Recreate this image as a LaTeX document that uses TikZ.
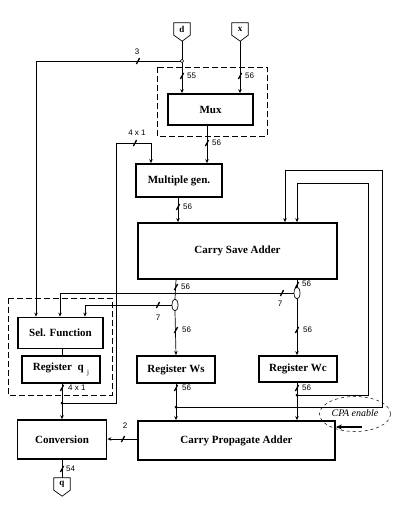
\documentclass[tikz,border=0pt]{standalone}
\usepackage{fontspec}
\setmainfont{Liberation Serif}
\setsansfont{Liberation Sans}
\usetikzlibrary{arrows.meta,shapes.geometric}

\begin{document}
\begin{tikzpicture}[x=1pt,y=-1pt,
  box/.style={draw,line width=1.8pt,font=\bfseries\fontsize{11}{12}\selectfont,inner sep=0pt},
  wire/.style={line width=0.7pt},
  arr/.style={wire,-{Stealth[length=4pt,width=3.5pt]}},
  lbl/.style={font=\sffamily\fontsize{8}{9}\selectfont,inner sep=0pt},
  dbox/.style={draw,line width=0.7pt,dash pattern=on 6pt off 3pt},
  io/.style={minimum width=16pt,minimum height=12pt,inner sep=0pt,font=\bfseries\fontsize{9}{10}\selectfont},
  jdot/.style={circle,fill,inner sep=0pt,minimum size=3pt},
  tap/.style={ellipse,draw,fill=white,line width=0.7pt,inner sep=0pt,minimum width=6pt,minimum height=12pt},
  bus/.pic={\draw[line width=1.3pt] (-1.6,3) -- (1.6,-3);}
]
\useasboundingbox (0,0) rectangle (407,514);

% ---------- inputs / output ----------
\node[io] (d) at (182,29) {d};
\draw[wire] (d.south west) -- (d.north west) -- (d.north east) -- (d.south east) -- ++(-8,6) -- cycle;
\node[io] (x) at (240,29) {x};
\draw[wire] (x.south west) -- (x.north west) -- (x.north east) -- (x.south east) -- ++(-8,6) -- cycle;
\node[io] (q) at (62,484) {q};
\draw[wire] (q.south west) -- (q.north west) -- (q.north east) -- (q.south east) -- ++(-8,6) -- cycle;
\coordinate (dtip) at (182,41);
\coordinate (xtip) at (240,41);

% ---------- boxes ----------
\node[box,minimum width=85pt,minimum height=31pt] (mux) at (210.5,109.5) {Mux};
\node[box,minimum width=86pt,minimum height=33pt] (mgen) at (179,180.5) {Multiple gen.};
\node[box,minimum width=199pt,minimum height=56pt] (csa) at (237.5,251) {Carry Save Adder};
\node[box,minimum width=85pt,minimum height=31pt] (sel) at (60.5,333) {Sel. Function};
\node[box,minimum width=78pt,minimum height=27pt] (regq) at (61,369.5) {Register~~q\raisebox{-4pt}{\mdseries\fontsize{7}{8}\selectfont\ \ j}};
\node[box,minimum width=78pt,minimum height=27pt] (regws) at (176,369.5) {Register Ws};
\node[box,minimum width=78pt,minimum height=26pt] (regwc) at (298,369) {Register Wc};
\node[box,minimum width=197pt,minimum height=39pt] (cpa) at (236.5,440.5) {Carry Propagate Adder};
\node[box,minimum width=89pt,minimum height=39pt] (conv) at (62,439.5) {Conversion};

% ---------- dashed groups ----------
\draw[dbox] (157,67) rectangle (267,136);
\draw[dbox] (8,298) rectangle (112,395);

% ---------- CPA enable ----------
\node[ellipse,draw,dashed,line width=0.5pt,minimum width=71pt,minimum height=35pt,inner sep=0pt,
      font=\itshape\fontsize{10}{11}\selectfont] (en) at (355,414) {\raisebox{2pt}{CPA enable}};
\coordinate (ens) at (362,427);
\draw[line width=1.8pt,-{Stealth[length=6pt,width=5pt]}] (ens) -- (ens -| cpa.east);

% ---------- helper coordinates ----------
\coordinate (jd) at (182,61);
\coordinate (c3) at (36,61);
\coordinate (colB) at (60,0);
\coordinate (colC) at (85,0);
\coordinate (colQ) at (62,0);
\coordinate (colM) at (151,0);
\coordinate (colMx) at (207,0);
\coordinate (colG) at (178,0);
\coordinate (colWs) at (176,0);
\coordinate (colWc) at (297,0);
\coordinate (colF1) at (285,0);
\coordinate (jq) at (62,403);
\coordinate (l1) at (116,403);
\coordinate (l2) at (116,143);
\coordinate (jws) at (176,407);
\coordinate (o1) at (382,407);
\coordinate (o2) at (382,170);
\coordinate (o3) at (285,170);
\coordinate (jwc) at (297,395);
\coordinate (i1) at (368,395);
\coordinate (i2) at (368,183);
\coordinate (i3) at (297,183);
\coordinate (rowC) at (0,439);

% ---------- taps ----------
\node[tap] (e1) at (175,305) {};
\node[tap] (e2) at (297,293) {};

% ---------- wires ----------
\draw[wire] (dtip) -- (jd);
\draw[arr] (jd) -- (jd |- mux.north);
\draw[arr] (xtip) -- (xtip |- mux.north);
\draw[arr] (jd) -- (c3) -- (c3 |- sel.north);
\draw[arr] (colMx |- mux.south) -- (colMx |- mgen.north);
\draw[arr] (colG |- mgen.south) -- (colG |- csa.north);
\draw[arr] (jq) -- (l1) -- (l2) -- (colM |- l2) -- (colM |- mgen.north);

\draw[wire] (colWs |- csa.south) -- (e1.north);
\draw[arr] (e1.south) -- (colWs |- regws.north);
\draw[wire] (colWc |- csa.south) -- (e2.north);
\draw[arr] (e2.south) -- (colWc |- regwc.north);
\draw[arr] (e1.west) -- (colC |- e1.west) -- (colC |- sel.north);
\draw[arr] (e2.west) -- (colB |- e2.west) -- (colB |- sel.north);

\draw[wire] (colQ |- sel.south) -- (colQ |- regq.north);
\draw[arr] (colQ |- regq.south) -- (colQ |- conv.north);
\draw[arr] (colWs |- regws.south) -- (colWs |- cpa.north);
\draw[arr] (colWc |- regwc.south) -- (colWc |- cpa.north);
\draw[arr] (jws) -- (o1) -- (o2) -- (o3) -- (colF1 |- csa.north);
\draw[arr] (jwc) -- (i1) -- (i2) -- (i3) -- (colWc |- csa.north);
\draw[arr] (cpa.west |- rowC) -- (conv.east |- rowC);
\draw[wire] (colQ |- conv.south) -- (q.north);

% ---------- junctions ----------
\node[circle,draw,fill=white,line width=0.6pt,inner sep=0pt,minimum size=3.5pt] (jdn) at (jd) {};
\node[jdot] (jqn) at (jq) {};
\node[jdot] (jwsn) at (jws) {};
\node[jdot] (jwcn) at (jwc) {};

% ---------- bus slashes and widths ----------
\pic at (138,61) {bus};   \node[lbl] (t3) at (137,52) {3};
\pic at (182,76) {bus};   \node[lbl,anchor=west] (t55) at (187,76) {55};
\pic at (240,76) {bus};   \node[lbl,anchor=west] (t56a) at (245,76) {56};
\pic at (207,143) {bus};  \node[lbl,anchor=west] (t56b) at (212,143) {56};
\pic at (135,143) {bus};  \node[lbl] (t41a) at (137,133) {4 x 1};
\pic at (178,207) {bus};  \node[lbl,anchor=west] (t56c) at (183,207) {56};
\pic at (176,287) {bus};  \node[lbl,anchor=west] (t56d) at (181,287) {56};
\pic at (297,285) {bus};  \node[lbl,anchor=west] (t56e) at (302,284) {56};
\pic at (158,305) {bus};  \node[lbl] (t7a) at (158,318) {7};
\pic at (282,293) {bus};  \node[lbl] (t7b) at (280,304) {7};
\pic at (176,330) {bus};  \node[lbl,anchor=west] (t56f) at (182,330) {56};
\pic at (297,330) {bus};  \node[lbl,anchor=west] (t56g) at (303,330) {56};
\pic at (62,388) {bus};   \node[lbl,anchor=west] (t41b) at (68,388) {4 x 1};
\pic at (176,388) {bus};  \node[lbl,anchor=west] (t56h) at (182,388) {56};
\pic at (297,388) {bus};  \node[lbl,anchor=west] (t56i) at (302,388) {56};
\pic at (123,439) {bus};  \node[lbl] (t2) at (125,426) {2};
\pic at (62,469) {bus};   \node[lbl,anchor=west] (t54) at (66,469) {54};
\end{tikzpicture}
\end{document}
